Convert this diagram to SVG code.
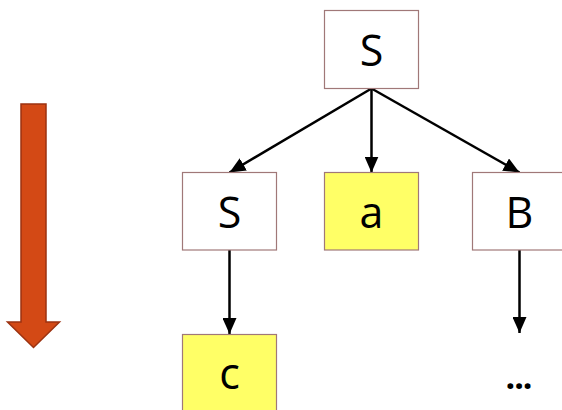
<svg xmlns="http://www.w3.org/2000/svg" width="562" height="410" viewBox="0 0 562 410">
  <style>
    .box { stroke: #a07878; stroke-width: 1.2; }
    .nt { fill: #ffffff; }
    .t { fill: #ffff66; }
    .lbl { font-family: "Open Sans", "Noto Sans", sans-serif; font-size: 43px; fill: #000; text-anchor: middle; }
    .edge { stroke: #000; stroke-width: 2.5; fill: none; marker-end: url(#head); }
  </style>
  <defs>
    <marker id="head" viewBox="0 0 16 14" refX="16" refY="7" markerWidth="16" markerHeight="14" markerUnits="userSpaceOnUse" orient="auto">
      <path d="M0,0 L16,7 L0,14 Z" fill="#000"/>
    </marker>
  </defs>

  <!-- direction arrow -->
  <path d="M21,104 H46 V322 H59.5 L33.5,347.5 L7.5,322 H21 Z" fill="#d34915" stroke="#9c3210" stroke-width="1.5"/>

  <g id="connectors">
    <line class="edge" x1="371.5" y1="88.5" x2="229.5" y2="172.5"/>
    <line class="edge" x1="371.5" y1="88.5" x2="371.5" y2="172.5"/>
    <line class="edge" x1="371.5" y1="88.5" x2="519.5" y2="172.5"/>
    <line class="edge" x1="229.5" y1="250" x2="229.5" y2="334"/>
    <line class="edge" x1="519.5" y1="250" x2="519.5" y2="333"/>
  </g>

  <g id="root-S">
    <rect class="box nt" x="324.5" y="10.5" width="94" height="78"/>
    <text class="lbl" x="371.5" y="66">S</text>
  </g>
  <g id="child-S">
    <rect class="box nt" x="182.5" y="172.5" width="94" height="77.5"/>
    <text class="lbl" x="229.5" y="228">S</text>
  </g>
  <g id="child-a">
    <rect class="box t" x="324.5" y="172.5" width="94" height="77.5"/>
    <text class="lbl" x="371.5" y="228">a</text>
  </g>
  <g id="child-B">
    <rect class="box nt" x="472.5" y="172.5" width="94" height="77.5"/>
    <text class="lbl" x="519.5" y="228">B</text>
  </g>
  <g id="leaf-c">
    <rect class="box t" x="182.5" y="334.5" width="94" height="80"/>
    <text class="lbl" x="229.5" y="389">c</text>
  </g>
  <g id="ellipsis">
    <text class="lbl" x="518.5" y="389" style="font-size:34px;font-weight:bold;letter-spacing:-1px">...</text>
  </g>
</svg>
